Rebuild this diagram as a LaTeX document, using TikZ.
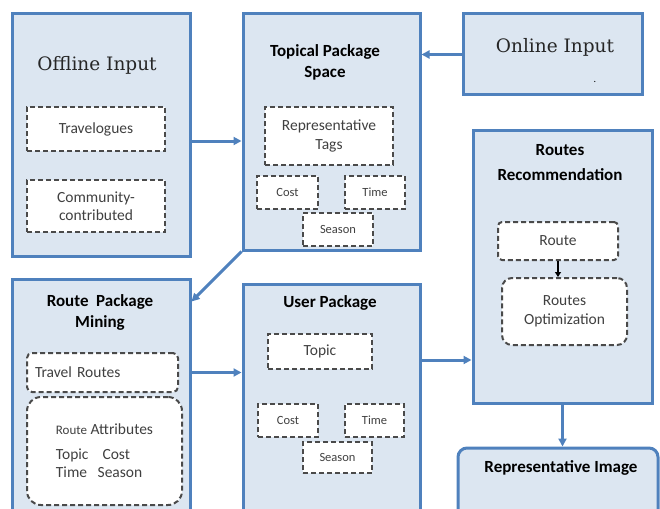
\documentclass[tikz,border=0pt]{standalone}
\usepackage{fontspec}
\setmainfont{Carlito}
\newfontfamily\inputfont{DejaVu Serif}
\usetikzlibrary{arrows.meta,calc,positioning}
\definecolor{boxblue}{HTML}{4F81BD}
\definecolor{boxfill}{HTML}{DCE6F1}
\definecolor{dashgray}{HTML}{4A4A4A}
\tikzset{%
	stage/.style    = {draw=boxblue, line width=3pt, fill=boxfill, inner sep=0pt},
	item/.style     = {draw=dashgray, dash pattern=on 5pt off 3pt, line width=2pt, fill=white, inner sep=0pt, align=center, text=black!75, font=\fontsize{15.5}{18.5}\selectfont},
	smallitem/.style= {item, font=\fontsize{12.5}{15}\selectfont},
	title/.style    = {align=center, inner sep=0pt, font=\bfseries\fontsize{17}{21}\selectfont},
	inputtitle/.style = {inner sep=0pt, text=black!85, font=\inputfont\fontsize{18.5}{22}\selectfont},
	flow/.style     = {draw=boxblue, line width=3pt, -{Triangle[length=8pt,width=8pt]}},
	tick/.style     = {draw=black, line width=1.2pt, -{Triangle[length=5pt,width=6pt]}},
}
\begin{document}
\begin{tikzpicture}[x=1pt,y=-1pt]
	\useasboundingbox (0,0) rectangle (660,508);
	\clip (0,0) rectangle (660,508);
	% stages
	\node[stage, minimum width=178pt, minimum height=242pt] (offline) at (101,135) {};
	\node[stage, minimum width=177pt, minimum height=236pt] (topical) at (331.5,132) {};
	\node[stage, minimum width=179pt, minimum height=81pt] (online) at (552.5,54.5) {};
	\node[stage, minimum width=179pt, minimum height=273pt] (recom) at (562.5,266.5) {};
	\node[stage, minimum width=178pt, minimum height=241pt] (mining) at (101,399.5) {};
	\node[stage, minimum width=177pt, minimum height=236pt] (user) at (331.5,402) {};
	\node[stage, rounded corners=9pt, minimum width=200pt, minimum height=77pt] (image) at (558,486.5) {};
	% titles
	\node[inputtitle] (offlinetitle) at (97,65) {Offline Input};
	\node[inputtitle] (onlinetitle) at (555,47) {Online Input};
	\node[inner sep=0pt] (onlinedot) at (595,82) {.};
	\node[title] (topicaltitle) at (325,62) {Topical Package\\Space};
	\node[title, font=\bfseries\fontsize{17}{25}\selectfont] (recomtitle) at (560,163) {Routes\\Recommendation};
	\node[title] (miningtitle) at (100,312) {Route\ \ Package\\Mining};
	\node[title] (usertitle) at (330,303) {User Package};
	\node[title] (imagetitle) at (561,468) {Representative Image};
	% offline input
	\node[item, minimum width=138pt, minimum height=44pt] (travelogues) at (96,129) {Travelogues};
	\node[item, minimum width=138pt, minimum height=52pt] (community) at (96,206) {Community-\\contributed};
	% topical package space
	\node[item, minimum width=128pt, minimum height=58pt] (reptags) at (329,136) {Representative\\Tags};
	\node[smallitem, minimum width=61pt, minimum height=33pt] (tcost) at (287.5,192.5) {Cost};
	\node[smallitem, minimum width=60pt, minimum height=33pt] (ttime) at (375,192.5) {Time};
	\node[smallitem, minimum width=70pt, minimum height=33pt] (tseason) at (338,229.5) {Season};
	% routes recommendation
	\node[item, rounded corners=4pt, minimum width=120pt, minimum height=38pt] (route) at (558,241) {Route};
	\node[item, rounded corners=10pt, minimum width=125pt, minimum height=67pt] (routeopt) at (564.5,311.5) {Routes\\Optimization};
	% route package mining
	\node[item, rounded corners=5pt, minimum width=151pt, minimum height=39pt, text width=135pt, align=left] (travel) at (102.5,372.5) {Travel Routes};
	\node[item, rounded corners=14pt, minimum width=155pt, minimum height=108pt, align=left] (attrs) at (104.5,451) {{\fontsize{13}{15}\selectfont Route} Attributes\\[6pt]Topic\ \ \ \ Cost\\Time\ \ \ Season};
	% user package
	\node[item, minimum width=104pt, minimum height=35pt] (topic) at (320,351.5) {Topic};
	\node[smallitem, minimum width=60pt, minimum height=33pt] (ucost) at (288,420.5) {Cost};
	\node[smallitem, minimum width=59pt, minimum height=33pt] (utime) at (374.5,420.5) {Time};
	\node[smallitem, minimum width=69pt, minimum height=31pt] (useason) at (337.5,457.5) {Season};
	% connectors
	\draw[flow] ([yshift=-6pt]offline.east) -- ([yshift=-6pt]offline.east -| topical.west);
	\draw[flow] (online.west) -- (online.west -| topical.east);
	\draw[flow] (topical.south west) -- ([yshift=-24pt]mining.north east);
	\draw[flow] (mining.east |- travel) -- (user.west |- travel);
	\draw[flow] ([yshift=42pt]user.east) -- ([yshift=42pt]user.east -| recom.west);
	\draw[flow] (recom.south) -- (recom.south |- image.north);
	\draw[tick] (route.south) -- (route.south |- routeopt.north);
\end{tikzpicture}
\end{document}
